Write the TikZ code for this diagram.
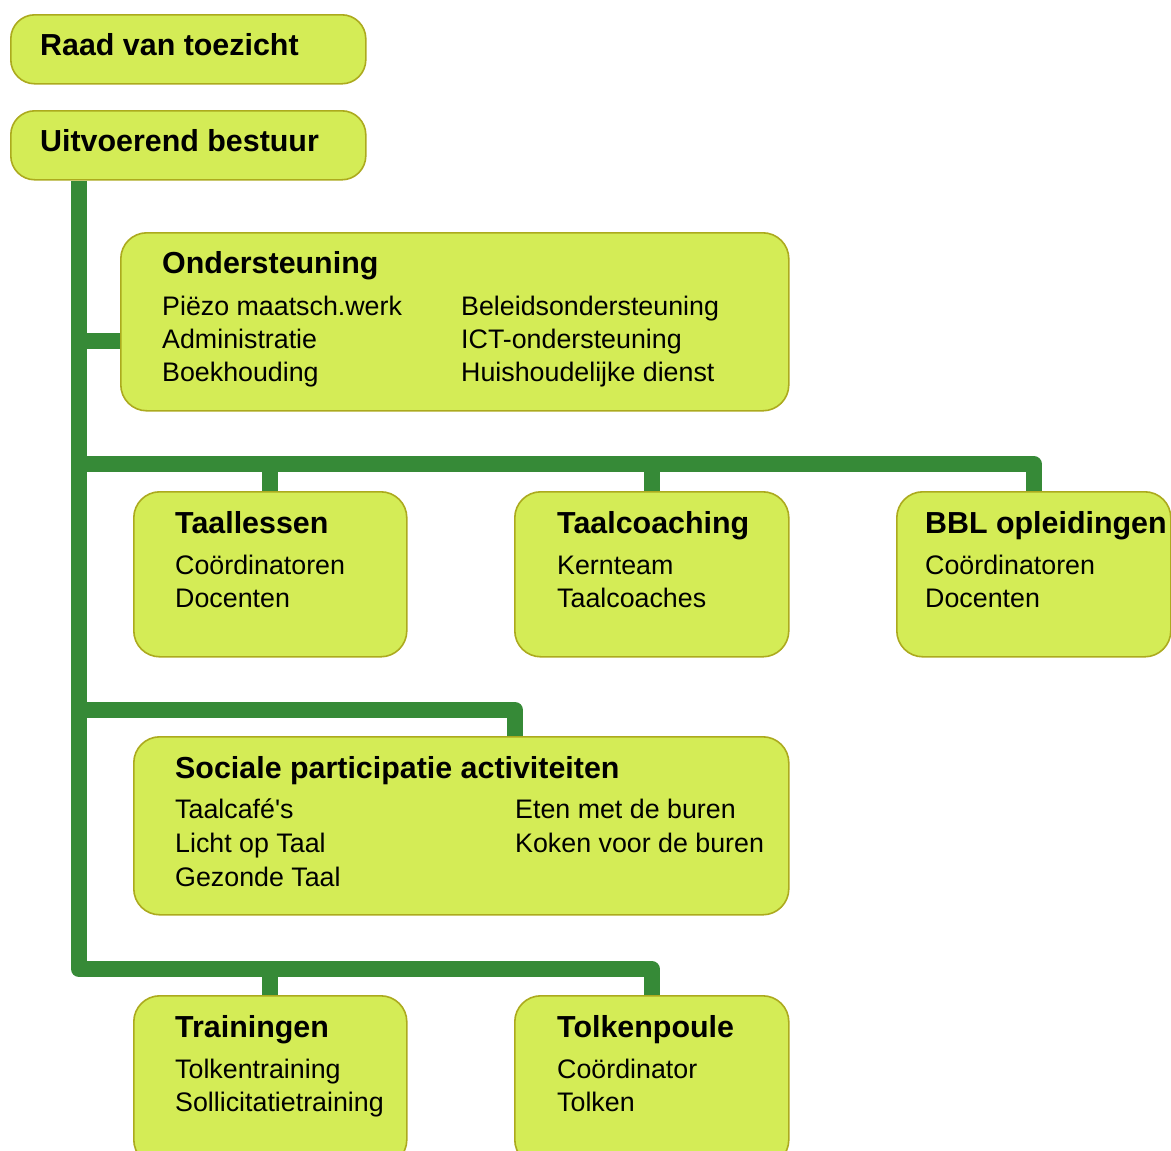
\documentclass[tikz,border=0pt]{standalone}
\usepackage{fontspec}
\setmainfont{Liberation Sans}[Ligatures=TeXOff]
\usetikzlibrary{backgrounds}
\definecolor{boxfill}{HTML}{D4EC56}
\definecolor{boxline}{HTML}{ACAA1E}
\definecolor{connc}{HTML}{368A37}
\tikzset{
  box/.style={draw=boxline, line width=1.6pt, fill=boxfill, rounded corners=26pt, inner sep=0pt, anchor=north west},
  smallbox/.style={box, rounded corners=24pt},
  ttl/.style={anchor=base west, inner sep=0pt, font=\fontsize{30.4}{35}\selectfont\bfseries},
  itm/.style={anchor=base west, inner sep=0pt, font=\fontsize{26.8}{33}\selectfont},
  conn/.style={draw=connc, line width=16pt, line join=round}
}
\begin{document}
\begin{tikzpicture}[x=1pt,y=-1pt]
\useasboundingbox (0,0) rectangle (1171,1151);
\clip (0,0) rectangle (1171,1151);
% boxes
\node[smallbox, minimum width=355pt, minimum height=69pt] (rvt) at (10,14) {};
\node[smallbox, minimum width=355pt, minimum height=69pt] (ub) at (10,110) {};
\node[box, minimum width=668pt, minimum height=178pt] (ond) at (120,232) {};
\node[box, minimum width=273pt, minimum height=165pt] (tl) at (133,491) {};
\node[box, minimum width=274pt, minimum height=165pt] (tc) at (514,491) {};
\node[box, minimum width=274pt, minimum height=165pt] (bbl) at (896,491) {};
\node[box, minimum width=655pt, minimum height=178pt] (sp) at (133,736) {};
\node[box, minimum width=273pt, minimum height=170pt] (tr) at (133,995) {};
\node[box, minimum width=274pt, minimum height=170pt] (tk) at (514,995) {};
% texts
\node[ttl] (t-rvt) at (40,56) {Raad van toezicht};
\node[ttl] (t-ub) at (40,151) {Uitvoerend bestuur};
\node[ttl] (t-ond) at (162,273) {Ondersteuning};
\node[itm] (o1) at (162,315) {Piëzo maatsch.werk};
\node[itm] (o2) at (162,348) {Administratie};
\node[itm] (o3) at (162,381) {Boekhouding};
\node[itm] (o4) at (461,315) {Beleidsondersteuning};
\node[itm] (o5) at (461,348) {ICT-ondersteuning};
\node[itm] (o6) at (461,381) {Huishoudelijke dienst};
\node[ttl] (t-tl) at (175,533) {Taallessen};
\node[itm] (tl1) at (175,574) {Coördinatoren};
\node[itm] (tl2) at (175,607) {Docenten};
\node[ttl] (t-tc) at (557,533) {Taalcoaching};
\node[itm] (tc1) at (557,574) {Kernteam};
\node[itm] (tc2) at (557,607) {Taalcoaches};
\node[ttl] (t-bbl) at (925,533) {BBL opleidingen};
\node[itm] (bbl1) at (925,574) {Coördinatoren};
\node[itm] (bbl2) at (925,607) {Docenten};
\node[ttl] (t-sp) at (175,778) {Sociale participatie activiteiten};
\node[itm] (sp1) at (175,818) {Taalcafé's};
\node[itm] (sp2) at (175,852) {Licht op Taal};
\node[itm] (sp3) at (175,886) {Gezonde Taal};
\node[itm] (sp4) at (515,818) {Eten met de buren};
\node[itm] (sp5) at (515,852) {Koken voor de buren};
\node[ttl] (t-tr) at (175,1037) {Trainingen};
\node[itm] (tr1) at (175,1078) {Tolkentraining};
\node[itm] (tr2) at (175,1111) {Sollicitatietraining};
\node[ttl] (t-tk) at (557,1037) {Tolkenpoule};
\node[itm] (tk1) at (557,1078) {Coördinator};
\node[itm] (tk2) at (557,1111) {Tolken};
% connector points
\coordinate (top) at (79,0 |- ub.south);
\coordinate (j1) at (79,464);
\coordinate (j2) at (79,710);
\coordinate (j3) at (79,969);
\coordinate (jo) at (79,341);
\coordinate (spin) at (515,0 |- sp.north);
\begin{scope}[on background layer]
\draw[conn] (top) -- (j3) -| (tk.north);
\draw[conn] (tr.north) -- (tr.north |- j3);
\draw[conn] (jo) -- (ond.west |- jo);
\draw[conn] (j1) -| (bbl.north);
\draw[conn] (tl.north) -- (tl.north |- j1);
\draw[conn] (tc.north) -- (tc.north |- j1);
\draw[conn] (j2) -| (spin);
\end{scope}
\end{tikzpicture}
\end{document}
